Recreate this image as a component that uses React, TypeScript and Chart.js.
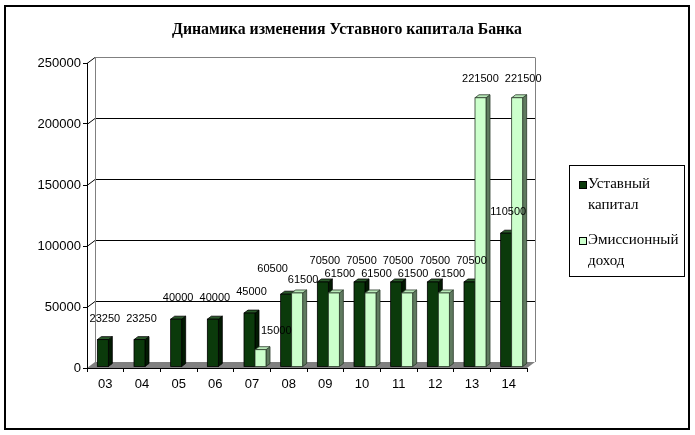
import React, { useEffect, useRef } from 'react';
import { Chart, registerables } from 'chart.js';

Chart.register(...registerables);

const titleText = 'Динамика изменения Уставного капитала Банка';
const years = ['03', '04', '05', '06', '07', '08', '09', '10', '11', '12', '13', '14'];
const charterCapital = [23250, 23250, 40000, 40000, 45000, 60500, 70500, 70500, 70500, 70500, 70500, 110500];
const shareIncome = [null, null, null, null, 15000, 61500, 61500, 61500, 61500, 61500, 221500, 221500];
const seriesNames = [['Уставный', 'капитал'], ['Эмиссионный', 'доход']];
const yMax = 250000;
const yStep = 50000;

const SANS = '"Liberation Sans", Arial, sans-serif';
const SERIF = '"Liberation Serif", "Times New Roman", serif';

const palette = [
  { front: '#0b3a0b', side: '#021a02', top: '#2a5a2a', edge: '#000000' },
  { front: '#ccffcc', side: '#5f7a5f', top: '#b8e8b8', edge: '#2a3a2a' },
];

const depthX = 4;
const depthY = 3;
const barShift = 3;
const wallX = 8;
const wallY = 6;
const labelLift = [21, 19];
const labelDx = [0, 4];

function drawBar(ctx: CanvasRenderingContext2D, x0: number, x1: number, yTop: number, yBase: number, c: any) {
  ctx.lineWidth = 0.8;
  ctx.strokeStyle = c.edge;
  ctx.fillStyle = c.side;
  ctx.beginPath();
  ctx.moveTo(x1, yBase);
  ctx.lineTo(x1 + depthX, yBase - depthY);
  ctx.lineTo(x1 + depthX, yTop - depthY);
  ctx.lineTo(x1, yTop);
  ctx.closePath();
  ctx.fill();
  ctx.stroke();
  ctx.fillStyle = c.top;
  ctx.beginPath();
  ctx.moveTo(x0, yTop);
  ctx.lineTo(x1, yTop);
  ctx.lineTo(x1 + depthX, yTop - depthY);
  ctx.lineTo(x0 + depthX, yTop - depthY);
  ctx.closePath();
  ctx.fill();
  ctx.stroke();
  ctx.fillStyle = c.front;
  ctx.fillRect(x0, yTop, x1 - x0, yBase - yTop);
  ctx.strokeRect(x0, yTop, x1 - x0, yBase - yTop);
}

const chart3d = {
  id: 'chart3d',
  beforeDatasetsDraw(chart: any) {
    const { ctx, chartArea: a, scales } = chart;
    const y = scales.y;
    ctx.save();
    ctx.fillStyle = '#808080';
    ctx.beginPath();
    ctx.moveTo(a.left, a.bottom);
    ctx.lineTo(a.right, a.bottom);
    ctx.lineTo(a.right + wallX, a.bottom - wallY);
    ctx.lineTo(a.left + wallX, a.bottom - wallY);
    ctx.closePath();
    ctx.fill();
    ctx.lineWidth = 1;
    for (const t of y.ticks) {
      if (t.value <= 0) continue;
      const py = Math.round(y.getPixelForValue(t.value)) + 0.5;
      ctx.strokeStyle = t.value >= yMax ? '#808080' : '#000000';
      ctx.beginPath();
      ctx.moveTo(a.left + wallX, py - wallY);
      ctx.lineTo(a.right + wallX, py - wallY);
      ctx.stroke();
      ctx.strokeStyle = '#000000';
      ctx.beginPath();
      ctx.moveTo(a.left, py);
      ctx.lineTo(a.left + wallX, py - wallY);
      ctx.stroke();
    }
    const topY = Math.round(y.getPixelForValue(yMax)) + 0.5 - wallY;
    ctx.strokeStyle = '#808080';
    ctx.beginPath();
    ctx.moveTo(Math.round(a.left + wallX) + 0.5, topY);
    ctx.lineTo(Math.round(a.left + wallX) + 0.5, a.bottom - wallY);
    ctx.moveTo(Math.round(a.right + wallX) + 0.5, topY);
    ctx.lineTo(Math.round(a.right + wallX) + 0.5, a.bottom - wallY);
    ctx.stroke();
    ctx.strokeStyle = '#000000';
    ctx.beginPath();
    ctx.moveTo(Math.round(a.left) + 0.5, a.top);
    ctx.lineTo(Math.round(a.left) + 0.5, a.bottom + 0.5);
    ctx.lineTo(a.right, a.bottom + 0.5);
    ctx.stroke();
    ctx.restore();
  },
  afterDatasetsDraw(chart: any) {
    const { ctx, scales } = chart;
    const y = scales.y;
    ctx.save();
    const n = chart.data.labels.length;
    for (let i = 0; i < n; i++) {
      chart.data.datasets.forEach((ds: any, di: number) => {
        const v = ds.data[i];
        if (v == null) return;
        const el = chart.getDatasetMeta(di).data[i];
        const x0 = el.x - el.width / 2 + barShift;
        const x1 = el.x + el.width / 2 + barShift;
        drawBar(ctx, x0, x1, el.y, el.base - 1, palette[di]);
      });
    }
    // data labels
    ctx.font = `11px ${SANS}`;
    ctx.fillStyle = '#000000';
    ctx.textAlign = 'center';
    ctx.textBaseline = 'middle';
    const all: any[] = [];
    for (let i = 0; i < n; i++) {
      const items: any[] = [];
      chart.data.datasets.forEach((ds: any, di: number) => {
        const v = ds.data[i];
        if (v == null) { items.push(null); return; }
        const el = chart.getDatasetMeta(di).data[i];
        const text = String(v);
        items.push({
          text,
          x: el.x + barShift + 2 + labelDx[di],
          y: y.getPixelForValue(v) - labelLift[di],
          w: ctx.measureText(text).width,
          barRight: el.x + el.width / 2 + barShift + depthX,
          barTop: el.y,
        });
      });
      const [d, l] = items;
      if (d && l) {
        if (Math.abs(d.y - l.y) < 10 && Math.abs(d.x - l.x) < (d.w + l.w) / 2) {
          d.x = l.x - (d.w + l.w) / 2;
          d.y -= 4;
          l.y += 6;
        }
        if (l.y + 5 > d.barTop && l.x - l.w / 2 < d.barRight) {
          l.x = d.barRight + 2 + l.w / 2;
        }
      }
      items.forEach((it) => { if (it) all.push(it); });
    }
    // separate labels of neighbouring categories that would touch
    for (let k = all.length - 1; k > 0; k--) {
      const b = all[k];
      for (let j = k - 1; j >= 0; j--) {
        const a = all[j];
        if (a.x < b.x && Math.abs(a.y - b.y) < 10) {
          const minDx = (a.w + b.w) / 2 + 6;
          if (b.x - a.x < minDx) a.x = b.x - minDx;
        }
      }
    }
    all.forEach((it) => ctx.fillText(it.text, it.x, it.y));
    ctx.restore();
  },
  afterDraw(chart: any) {
    const { ctx } = chart;
    ctx.save();
    ctx.strokeStyle = '#000000';
    ctx.lineWidth = 2;
    ctx.strokeRect(5, 6, 684, 423);
    ctx.fillStyle = '#000000';
    ctx.font = `bold 15.8px ${SERIF}`;
    ctx.textAlign = 'center';
    ctx.textBaseline = 'middle';
    ctx.fillText(titleText, 347, 30);
    ctx.lineWidth = 1;
    ctx.strokeRect(569.5, 165.5, 115, 111);
    ctx.font = `15px ${SERIF}`;
    ctx.textAlign = 'left';
    ctx.textBaseline = 'alphabetic';
    const rows = [181, 237];
    seriesNames.forEach((lines, k) => {
      const top = rows[k];
      ctx.fillStyle = palette[k].front;
      ctx.fillRect(579.5, top + 0.5, 7, 7);
      ctx.strokeStyle = '#000000';
      ctx.strokeRect(579.5, top + 0.5, 7, 7);
      ctx.fillStyle = '#000000';
      ctx.fillText(lines[0], 588, top + 7);
      ctx.fillText(lines[1], 588, top + 28);
    });
    ctx.restore();
  },
};

export default function App() {
  const ref = useRef<HTMLCanvasElement | null>(null);
  useEffect(() => {
    if (!ref.current) return;
    const chart = new Chart(ref.current, {
      type: 'bar',
      data: {
        labels: years,
        datasets: [
          { label: seriesNames[0].join(' '), data: charterCapital, backgroundColor: 'rgba(0,0,0,0)', borderWidth: 0, categoryPercentage: 0.6, barPercentage: 1 },
          { label: seriesNames[1].join(' '), data: shareIncome as any, backgroundColor: 'rgba(0,0,0,0)', borderWidth: 0, categoryPercentage: 0.6, barPercentage: 1 },
        ],
      },
      options: {
        responsive: false,
        animation: false,
        layout: { padding: { left: 0, right: 168, top: 63, bottom: 37 } },
        plugins: { legend: { display: false }, title: { display: false }, tooltip: { enabled: false } },
        scales: {
          x: {
            grid: { display: true, drawOnChartArea: false, drawTicks: true, tickLength: 4, color: '#000000', offset: true },
            border: { display: false },
            ticks: { color: '#000000', font: { family: SANS, size: 13 }, padding: 5, maxRotation: 0 },
            afterFit: (s: any) => { s.height = 30; },
          },
          y: {
            min: 0,
            max: yMax,
            grid: { display: true, drawOnChartArea: false, drawTicks: true, tickLength: 4, color: '#000000' },
            border: { display: false },
            ticks: { stepSize: yStep, color: '#000000', font: { family: SANS, size: 13 }, padding: 2, callback: (v: any) => String(v) },
            afterFit: (s: any) => { s.width = 87; },
          },
        },
      },
      plugins: [chart3d],
    });
    return () => chart.destroy();
  }, []);
  return (
    <div style={{ position: 'absolute', left: 0, top: 0, width: 695, height: 435, background: '#ffffff' }}>
      <canvas ref={ref} width={695} height={435} style={{ display: 'block' }} />
    </div>
  );
}
